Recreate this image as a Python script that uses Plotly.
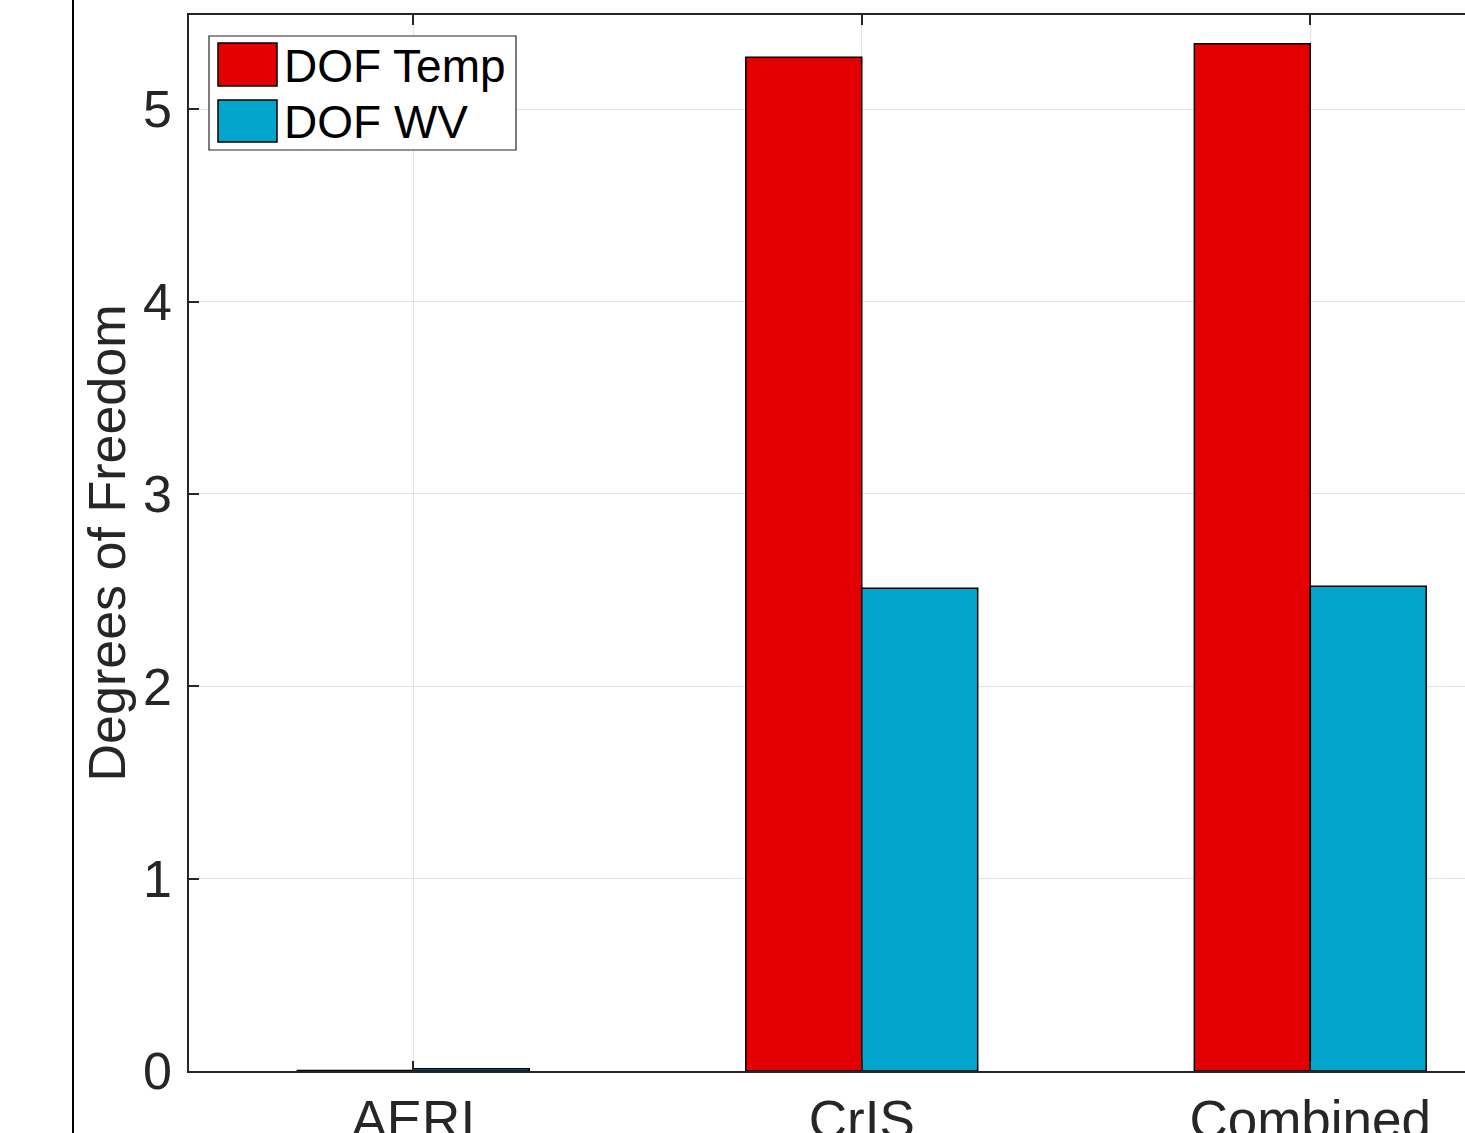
import plotly.graph_objects as go

# Retrieval degrees of freedom per instrument configuration
categories = ["AERI", "CrIS", "Combined"]
dof_temp = [0.002, 5.27, 5.34]
dof_wv = [0.012, 2.51, 2.52]
series_names = ["DOF Temp", "DOF WV"]
y_ticks = [0, 1, 2, 3, 4, 5]

RED = "#E40000"
BLUE = "#02A6CC"
AXIS = "#262626"
GRID = "#E3E3E3"
FONT = "Liberation Sans, Arial, Helvetica, sans-serif"

W, H = 1465, 1133
L, T, B = 189, 15, 62
plot_w, plot_h = W - L, H - T - B


def px_x(px):
    return (px - L) / plot_w


def px_y(py):
    return (H - B - py) / plot_h


fig = go.Figure()
for name, vals, col in [(series_names[0], dof_temp, RED), (series_names[1], dof_wv, BLUE)]:
    fig.add_trace(go.Bar(
        x=categories, y=vals, name=name,
        marker=dict(color=col, line=dict(color="black", width=1.5)),
        showlegend=False,
    ))

# Hand-built legend with large swatches
shapes = [
    dict(type="rect", xref="paper", yref="paper",
         x0=px_x(209), x1=px_x(516), y0=px_y(150), y1=px_y(36),
         line=dict(color=AXIS, width=1.2), fillcolor="white", layer="above"),
    dict(type="rect", xref="paper", yref="paper",
         x0=px_x(218), x1=px_x(277), y0=px_y(86), y1=px_y(43),
         line=dict(color="black", width=1.5), fillcolor=RED, layer="above"),
    dict(type="rect", xref="paper", yref="paper",
         x0=px_x(218), x1=px_x(277), y0=px_y(142), y1=px_y(100),
         line=dict(color="black", width=1.5), fillcolor=BLUE, layer="above"),
    # neighbouring panel edge on the left
    dict(type="line", xref="paper", yref="paper",
         x0=px_x(73), x1=px_x(73), y0=-0.2, y1=1.2,
         line=dict(color="black", width=2)),
]
annotations = [
    dict(text=series_names[0], xref="paper", yref="paper", x=px_x(282), y=px_y(66),
         xanchor="left", yanchor="middle", showarrow=False,
         font=dict(family=FONT, size=46, color="black")),
    dict(text=series_names[1], xref="paper", yref="paper", x=px_x(282), y=px_y(122),
         xanchor="left", yanchor="middle", showarrow=False,
         font=dict(family=FONT, size=46, color="black")),
]

fig.update_layout(
    width=W, height=H,
    margin=dict(l=L, r=0, t=T, b=B, pad=0, autoexpand=False),
    paper_bgcolor="white", plot_bgcolor="white",
    barmode="group", bargap=0.483, bargroupgap=0,
    font=dict(family=FONT, size=52, color=AXIS),
    shapes=shapes, annotations=annotations,
)
fig.update_xaxes(
    range=[-0.5, 2.345], showgrid=True, gridcolor=GRID, gridwidth=1,
    showline=True, linecolor=AXIS, linewidth=1.5, mirror="allticks",
    ticks="inside", ticklen=10, tickwidth=1.5, tickcolor=AXIS,
    tickfont=dict(family=FONT, size=53, color=AXIS),
    ticklabelstandoff=2, automargin=False, zeroline=False,
)
fig.update_yaxes(
    range=[0, 5.49], tickvals=y_ticks, showgrid=True, gridcolor=GRID, gridwidth=1,
    showline=True, linecolor=AXIS, linewidth=1.5, mirror=False,
    ticks="inside", ticklen=10, tickwidth=1.5, tickcolor=AXIS,
    tickfont=dict(family=FONT, size=52, color=AXIS),
    ticklabelstandoff=5, automargin=False, zeroline=False,
    title=dict(text="Degrees of Freedom", standoff=1,
               font=dict(family=FONT, size=52, color=AXIS)),
)

fig.write_html("out.html")
